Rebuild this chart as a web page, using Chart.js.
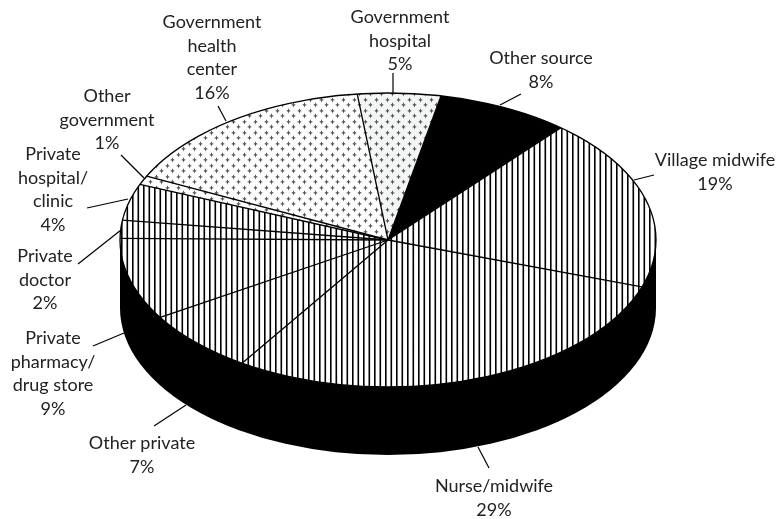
<!DOCTYPE html>
<html lang="en">
<head>
  <meta charset="UTF-8">
  <title>Source of supply</title>
  <script src="https://cdn.jsdelivr.net/npm/chart.js"></script>
  <style>
    html, body { margin: 0; padding: 0; background: #fff; }
    #chart { display: block; }
  </style>
</head>
<body>
  <canvas id="chart" width="777" height="519"></canvas>
  <script>
    // clockwise, starting at the black slice
    const categories = [
      ['Other source'],
      ['Village midwife'],
      ['Nurse/midwife'],
      ['Other private'],
      ['Private', 'pharmacy/', 'drug store'],
      ['Private', 'doctor'],
      ['Private', 'hospital/', 'clinic'],
      ['Other', 'government'],
      ['Government', 'health', 'center'],
      ['Government', 'hospital']
    ]
    const shares = [8, 19, 29, 7, 9, 2, 4, 1, 16, 5]

    // annotation layout, same order as categories: text centre x, first baseline y
    const labelPos = [
      [541, 64], [715, 166], [494, 492], [142, 449], [53, 344],
      [45, 262], [53, 160], [107, 102], [212, 28], [400, 23]
    ]
    // leader lines: x1, y1, x2, y2
    const leaders = [
      [521, 94, 500, 105], [654, 175, 634, 180], [478, 447, 489, 468], [186, 405, 154, 426], [124, 333, 93, 346],
      [121, 230, 78, 264], [128, 199, 87, 208], [121, 155, 144, 178], [218, 106, 226, 121], [393, 73, 393, 93]
    ]

    const radiusX = 268
    const radiusY = 147
    const squash = radiusY / radiusX
    const depth = 68
    const ink = '#000'
    const lineHeight = 23.6

    function makeTile(w, h, paint) {
      const c = document.createElement('canvas')
      c.width = w
      c.height = h
      paint(c.getContext('2d'))
      const p = document.getElementById('chart').getContext('2d').createPattern(c, 'repeat')
      p.setTransform(new DOMMatrix().scale(1, 1 / squash)) // undo the tilt for the fill
      return p
    }

    function stripes() {
      return makeTile(11, 11, g => {
        g.fillStyle = '#fff'
        g.fillRect(0, 0, 11, 11)
        g.fillStyle = '#000'
        g.fillRect(0, 0, 1.6, 11)
        g.fillRect(5.5, 0, 1.6, 11)
      })
    }

    function dots(bg) {
      return makeTile(11, 11, g => {
        g.fillStyle = bg
        g.fillRect(0, 0, 11, 11)
        ;[[2, 2], [7, 7]].forEach(([x, y]) => {
          g.fillStyle = '#c4c4c4'
          g.fillRect(x - 2, y, 5, 1)
          g.fillRect(x, y - 2, 1, 5)
          g.fillStyle = '#222'
          g.fillRect(x - 1, y, 1, 1)
          g.fillRect(x + 1, y, 1, 1)
          g.fillRect(x, y - 1, 1, 1)
          g.fillRect(x, y + 1, 1, 1)
          g.fillStyle = '#888'
          g.fillRect(x, y, 1, 1)
        })
      })
    }

    const line = stripes()
    const fills = [ink, line, line, line, line, line, line, dots('#fff'), dots('#fff'), dots('#f3f6f5')]

    const tilt = {
      id: 'tilt',
      beforeDatasetsDraw(chart) {
        const arc = chart.getDatasetMeta(0).data[0]
        const ctx = chart.ctx
        // the side wall of the disc
        ctx.fillStyle = ink
        ctx.beginPath()
        ctx.ellipse(arc.x, arc.y + depth, radiusX, radiusY, 0, 0, Math.PI)
        ctx.lineTo(arc.x - radiusX, arc.y)
        ctx.lineTo(arc.x + radiusX, arc.y)
        ctx.closePath()
        ctx.fill()
        ctx.save()
        ctx.translate(0, arc.y)
        ctx.scale(1, squash)
        ctx.translate(0, -arc.y)
      },
      afterDatasetsDraw(chart) {
        const ctx = chart.ctx
        ctx.restore()
        const arcs = chart.getDatasetMeta(0).data
        const { x, y } = arcs[0]
        ctx.strokeStyle = ink
        ctx.lineWidth = 1.3
        arcs.forEach(a => {
          ctx.beginPath()
          ctx.moveTo(x, y)
          ctx.lineTo(x + radiusX * Math.cos(a.startAngle), y + radiusY * Math.sin(a.startAngle))
          ctx.stroke()
        })
        ctx.beginPath()
        ctx.ellipse(x, y, radiusX, radiusY, 0, 0, Math.PI * 2)
        ctx.stroke()
      },
      afterDraw(chart) {
        const ctx = chart.ctx
        ctx.save()
        ctx.strokeStyle = ink
        ctx.lineWidth = 1.2
        leaders.forEach(l => {
          ctx.beginPath()
          ctx.moveTo(l[0], l[1])
          ctx.lineTo(l[2], l[3])
          ctx.stroke()
        })
        ctx.fillStyle = '#222'
        ctx.font = '18px Lato'
        ctx.textAlign = 'center'
        categories.forEach((name, i) => {
          const rows = name.concat(shares[i] + '%')
          rows.forEach((t, r) => ctx.fillText(t, labelPos[i][0], labelPos[i][1] + r * lineHeight))
        })
        ctx.restore()
      }
    }

    new Chart(document.getElementById('chart'), {
      type: 'pie',
      data: {
        labels: categories,
        datasets: [{
          data: shares,
          backgroundColor: fills,
          borderWidth: 0,
          radius: radiusX
        }]
      },
      options: {
        responsive: false,
        animation: false,
        rotation: 11.4,
        layout: { padding: { right: 1, bottom: 39 } },
        plugins: { legend: { display: false }, tooltip: { enabled: false } }
      },
      plugins: [tilt]
    })
  </script>
</body>
</html>
